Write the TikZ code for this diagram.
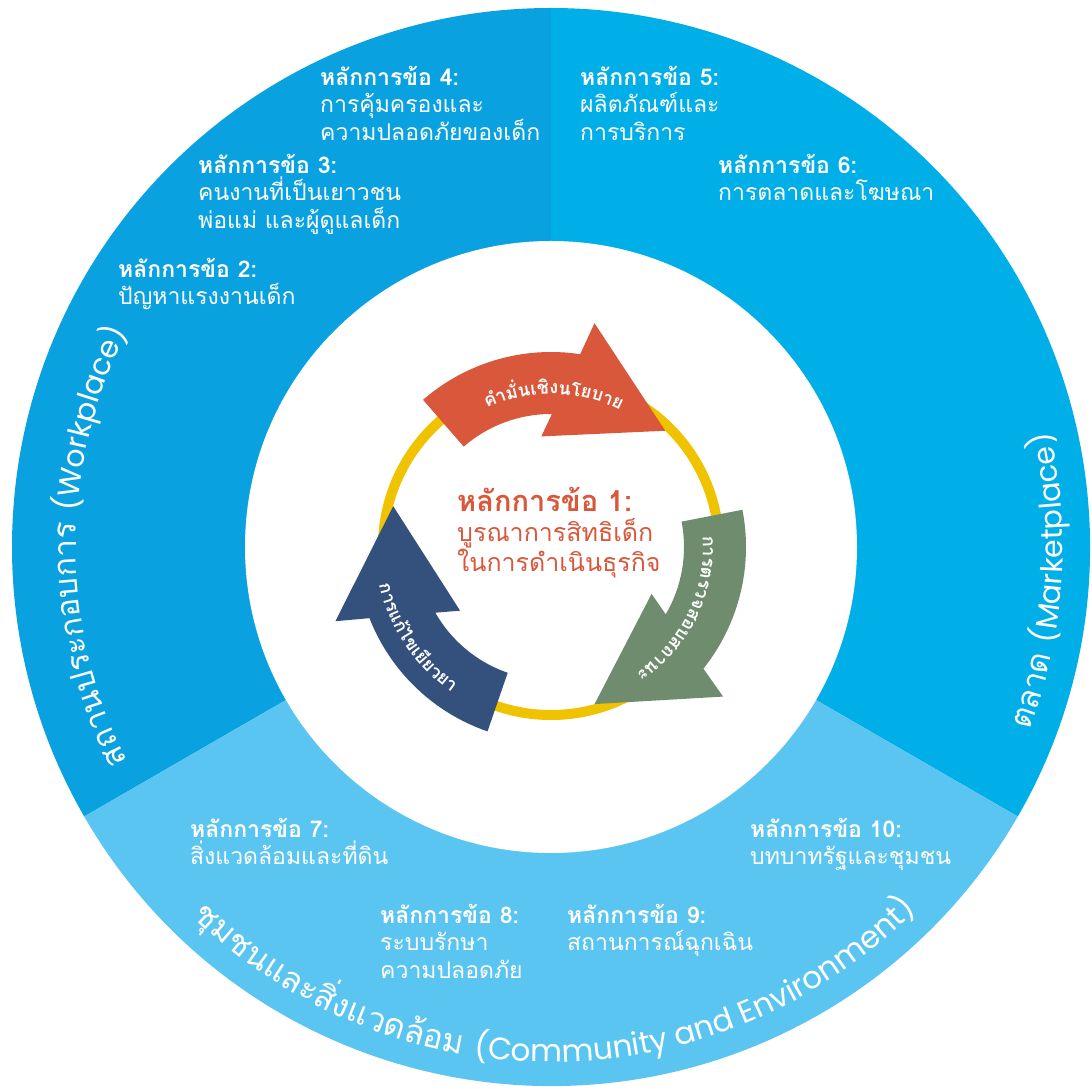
\documentclass[tikz,border=0pt]{standalone}
\usepackage{fontspec}
\usetikzlibrary{decorations.text}
\newfontfamily\thaifont[Script=Thai]{Loma}
\newfontfamily\latinfont{Poppins}
\definecolor{wpblue}{RGB}{10,161,224}
\definecolor{mkblue}{RGB}{0,174,232}
\definecolor{cmblue}{RGB}{90,197,240}
\definecolor{ringyel}{RGB}{239,195,0}
\definecolor{arrorange}{RGB}{217,87,58}
\definecolor{arrgreen}{RGB}{111,141,110}
\definecolor{arrnavy}{RGB}{52,81,126}
% one curved arrow of the cycle, turned by #2 degrees
\newcommand\cycarrow[2]{%
  \fill[#1, shift={(C)}, rotate=#2]
    (131:195) arc[start angle=131, end angle=81.4, radius=195]
    -- (79:228) -- (45.5:163) -- (95:111) -- (89.6:133)
    arc[start angle=89.6, end angle=131, radius=133] -- cycle;}

\begin{document}
\begin{tikzpicture}[x=1pt, y=1pt,
    plabel/.style={text=white, align=left, inner sep=0pt, anchor=north west,
                   font=\thaifont\fontsize{23}{27.5}\selectfont},
    arclabel/.style={decorate, decoration={text along path, text align=center,
                     text color=white}},
  ]
  \useasboundingbox (0,0) rectangle (1092,1088);
  \coordinate (C) at (551,541);

  % three sectors and the white middle
  \fill[wpblue] (C) -- ++(90:539) arc[start angle=90, end angle=210, radius=539] -- cycle;
  \fill[mkblue] (C) -- ++(-30:539) arc[start angle=-30, end angle=90, radius=539] -- cycle;
  \fill[cmblue] (C) -- ++(210:539) arc[start angle=210, end angle=330, radius=539] -- cycle;
  \fill[white] (C) circle[radius=306];
  \draw[ringyel, line width=10pt] (C) circle[radius=168];

  \cycarrow{arrorange}{0}
  \cycarrow{arrgreen}{-120}
  \cycarrow{arrnavy}{120}

  % texts on the arrows
  \path[arclabel, decoration={text={|\thaifont\bfseries\fontsize{18}{18}\selectfont|{คำ}{มั่}นเ{ชิ}งนโยบาย}}]
    ([shift={(C)}]129:153) arc[start angle=129, end angle=49, radius=153];
  \path[arclabel, decoration={text={|\thaifont\bfseries\fontsize{18}{18}\selectfont|การตรวจสอบสถานะ}}]
    ([shift={(C)}]14:152) arc[start angle=14, end angle=-66, radius=152];
  \path[arclabel, decoration={text={|\thaifont\bfseries\fontsize{18}{18}\selectfont|การแ{ก้}ไขเ{ยี}ยวยา}}]
    ([shift={(C)}]174:176) arc[start angle=174, end angle=254, radius=176];

  % ring titles
  \path[arclabel, decoration={text={|\thaifont\fontsize{32}{32}\selectfont|สถานประกอบการ |\latinfont\fontsize{30}{30}\selectfont|(Workplace)}}]
    ([shift={(C)}]235:475) arc[start angle=235, end angle=125, radius=475];
  \path[arclabel, decoration={text={|\thaifont\fontsize{32}{32}\selectfont|ตลาด |\latinfont\fontsize{30}{30}\selectfont|(Marketplace)}}]
    ([shift={(C)}]-59:512) arc[start angle=-59, end angle=51, radius=512];
  \path[arclabel, decoration={text={|\thaifont\fontsize{33}{33}\selectfont|{ชุ}มชนและ{สิ่}งแวด{ล้}อม |\latinfont\fontsize{31}{31}\selectfont|(Community and Environment)}}]
    ([shift={(C)}]200:515) arc[start angle=200, end angle=341, radius=515];

  % principle 1 in the middle
  \node[plabel, text=arrorange, font=\thaifont\fontsize{25}{30}\selectfont] (core) at (457,601)
    {{\fontsize{29}{30}\selectfont\textbf{หลักการข้อ 1:}}\\บูรณาการสิทธิเด็ก\\ในการดำเนินธุรกิจ};

  % principles 2--10
  \node[plabel] (p2) at (118,830) {\textbf{หลักการข้อ 2:}\\ปัญหาแรงงานเด็ก};
  \node[plabel] (p3) at (198,934) {\textbf{หลักการข้อ 3:}\\คนงานที่เป็นเยาวชน\\พ่อแม่ และผู้ดูแลเด็ก};
  \node[plabel] (p4) at (320,1022) {\textbf{หลักการข้อ 4:}\\การคุ้มครองและ\\ความปลอดภัยของเด็ก};
  \node[plabel] (p5) at (580,1022) {\textbf{หลักการข้อ 5:}\\ผลิตภัณฑ์และ\\การบริการ};
  \node[plabel] (p6) at (718,934) {\textbf{หลักการข้อ 6:}\\การตลาดและโฆษณา};
  \node[plabel] (p7) at (190,270) {\textbf{หลักการข้อ 7:}\\สิ่งแวดล้อมและที่ดิน};
  \node[plabel] (p8) at (380,184) {\textbf{หลักการข้อ 8:}\\ระบบรักษา\\ความปลอดภัย};
  \node[plabel] (p9) at (567,184) {\textbf{หลักการข้อ 9:}\\สถานการณ์ฉุกเฉิน};
  \node[plabel] (p10) at (750,270) {\textbf{หลักการข้อ 10:}\\บทบาทรัฐและชุมชน};
\end{tikzpicture}
\end{document}
